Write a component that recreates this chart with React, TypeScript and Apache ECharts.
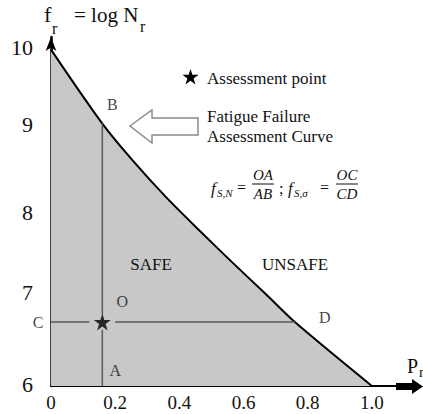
import React, { useEffect, useRef } from "react";
import * as echarts from "echarts";

// ---- data ----
const xTicks = [0, 0.2, 0.4, 0.6, 0.8, 1.0];
const yTicks = [6, 7, 8, 9, 10];
const curveP = [0, 0.16, 0.255, 0.36, 0.465, 0.565, 0.67, 0.76, 1.0];
const curveF = [10, 9.12, 8.68, 8.24, 7.84, 7.47, 7.09, 6.76, 6.0];
const assessP = 0.16;
const assessF = 6.76;
const pointLabels = ["A", "B", "C", "D", "O"];
const pointP = [assessP, assessP, 0, 0.76, assessP];
const pointF = [6, 9.12, assessF, assessF, assessF];

const SERIF = "'Liberation Serif', 'Times New Roman', serif";
const STAR_D =
  "M50,0 L61.2,34.5 L97.6,34.5 L68.2,55.9 L79.4,90.5 L50,69.1 L20.6,90.5 L31.8,55.9 L2.4,34.5 L38.8,34.5 Z";

let registered = false;
function registerShapes() {
  if (registered) return;
  registered = true;
  echarts.graphic.registerShape("starShape", echarts.graphic.extendPath(STAR_D, {}));
}

const X_MIN = 0, X_MAX = 1.15, Y_MIN = 6, Y_MAX = 10.15;
const GAP_X = 0.04, GAP_Y = 0.09;
// small upward nudges (px) of the y tick labels, as printed in the figure
const yLabelLift: Record<number, number> = { 6: 2, 7: 9, 8: 5, 9: 9, 10: 2 };

function buildOption(): any {
  const curve = curveP.map((p, i) => [p, curveF[i]]);
  const idxB = pointLabels.indexOf("B");
  const idxD = pointLabels.indexOf("D");
  const segStyle = { color: "#5a5a5a", width: 1.5 };
  const seg = (a: number[], b: number[]) => ({
    type: "line",
    data: [a, b],
    symbol: "none",
    lineStyle: segStyle,
    z: 3,
    silent: true,
  });
  const labelOffsets: Record<string, number[]> = {
    A: [13, -16],
    B: [10, -19],
    C: [-13, 0],
    D: [30, -5],
    O: [20, -21],
  };
  const txt = (text: string, x: number, y: number, size: number, extra: any = {}) => ({
    type: "text",
    x,
    y,
    z: 100,
    silent: true,
    style: {
      text,
      fill: "#111",
      fontSize: size,
      fontFamily: SERIF,
      align: "left",
      verticalAlign: "middle",
      ...extra,
    },
  });
  const it = { fontStyle: "italic" };
  const yRich: Record<string, any> = {};
  yTicks.forEach((t) => {
    yRich["y" + t] = {
      fontFamily: SERIF,
      fontSize: 22,
      color: "#111",
      padding: [0, 0, 2 * (yLabelLift[t] || 0), 0],
    };
  });
  return {
    animation: false,
    backgroundColor: "#fff",
    grid: { left: 51, right: 3, top: 37, bottom: 28 },
    xAxis: {
      type: "value",
      min: X_MIN,
      max: X_MAX,
      interval: 0.2,
      splitLine: { show: false },
      axisTick: { show: false },
      axisLine: { lineStyle: { color: "#000", width: 2 } },
      axisLabel: {
        color: "#111",
        fontFamily: SERIF,
        fontSize: 19,
        margin: 7,
        showMaxLabel: false,
        formatter: (v: number) => {
          const t = xTicks.find((k) => Math.abs(k - v) < 1e-6);
          if (t === undefined) return "";
          return t === 0 ? "0" : t.toFixed(1);
        },
      },
    },
    yAxis: {
      type: "value",
      min: Y_MIN,
      max: Y_MAX,
      interval: 1,
      splitLine: { show: false },
      axisTick: { show: false },
      axisLine: {
        lineStyle: { color: "#000", width: 2.5 },
        symbol: ["none", "arrow"],
        symbolSize: [8, 14],
        symbolOffset: [0, 0],
      },
      axisLabel: {
        color: "#111",
        fontFamily: SERIF,
        fontSize: 22,
        margin: 18,
        showMaxLabel: false,
        rich: yRich,
        formatter: (v: number) => {
          const t = yTicks.find((k) => Math.abs(k - v) < 1e-6);
          return t === undefined ? "" : `{y${t}|${t}}`;
        },
      },
    },
    series: [
      {
        type: "line",
        data: curve,
        symbol: "none",
        smooth: 0.3,
        lineStyle: { color: "#000", width: 2 },
        areaStyle: { color: "#c8c8c8", opacity: 1, origin: "start" },
        z: 2,
        silent: true,
      },
      // vertical A-B line, broken around the assessment point
      seg([assessP, Y_MIN], [assessP, assessF - GAP_Y]),
      seg([assessP, assessF + GAP_Y], [assessP, pointF[idxB]]),
      // horizontal C-D line, broken around the assessment point
      seg([0, assessF], [assessP - GAP_X, assessF]),
      seg([assessP + GAP_X, assessF], [pointP[idxD], assessF]),
      {
        type: "scatter",
        data: [[assessP, assessF]],
        symbol: "path://" + STAR_D,
        symbolSize: 17,
        itemStyle: { color: "#000" },
        z: 5,
        silent: true,
      },
      {
        type: "scatter",
        data: pointLabels.map((n, i) => ({
          name: n,
          value: [pointP[i], pointF[i]],
          label: { offset: labelOffsets[n] },
        })),
        symbolSize: 0,
        silent: true,
        z: 6,
        label: {
          show: true,
          position: "inside",
          formatter: (p: any) => p.name,
          color: "#111",
          fontFamily: SERIF,
          fontSize: 16,
        },
      },
    ],
    graphic: [
      // title
      txt("f", 44, 14, 22),
      txt("r", 52, 28, 16),
      txt("= log N", 74, 15, 21),
      txt("r", 140, 26, 16),
      // legend
      { type: "starShape", x: 182, y: 69, z: 100, scaleX: 0.17, scaleY: 0.17, style: { fill: "#000" }, silent: true },
      txt("Assessment point", 207, 78, 17),
      // hollow arrow
      {
        type: "polygon",
        silent: true,
        z: 100,
        shape: {
          points: [
            [130, 126],
            [152, 110],
            [152, 118],
            [198, 118],
            [198, 135],
            [152, 135],
            [152, 143],
          ],
        },
        style: { fill: "#fff", stroke: "#8a8a8a", lineWidth: 1.5 },
      },
      txt("Fatigue Failure", 207, 116, 17),
      txt("Assessment Curve", 207, 136, 17),
      // formula
      txt("f", 211, 188, 17, it),
      txt("S,N", 217, 193, 11, it),
      txt("=", 237, 187, 16),
      txt("OA", 263, 175, 15, { ...it, align: "center" }),
      { type: "line", silent: true, z: 100, shape: { x1: 252, y1: 184, x2: 274, y2: 184 }, style: { stroke: "#111", lineWidth: 1 } },
      txt("AB", 263, 194, 15, { ...it, align: "center" }),
      txt(";", 279, 188, 16),
      txt("f", 288, 188, 17, it),
      txt("S,σ", 294, 193, 11, it),
      txt("=", 320, 187, 16),
      txt("OC", 347, 175, 15, { ...it, align: "center" }),
      { type: "line", silent: true, z: 100, shape: { x1: 336, y1: 184, x2: 358, y2: 184 }, style: { stroke: "#111", lineWidth: 1 } },
      txt("CD", 347, 194, 15, { ...it, align: "center" }),
      // region labels
      txt("SAFE", 151, 264, 17, { align: "center" }),
      txt("UNSAFE", 295, 264, 17, { align: "center" }),
      // thick x-axis arrow
      {
        type: "polygon",
        silent: true,
        z: 100,
        shape: {
          points: [
            [396, 383],
            [412, 383],
            [412, 379],
            [423, 386.5],
            [412, 394],
            [412, 390],
            [396, 390],
          ],
        },
        style: { fill: "#000" },
      },
      txt("P", 407, 366, 20),
      txt("r", 419, 372, 15),
    ],
  };
}

export default function App() {
  const ref = useRef<HTMLDivElement>(null);
  useEffect(() => {
    registerShapes();
    const chart = echarts.init(ref.current!, null, { renderer: "svg" });
    chart.setOption(buildOption());
    return () => chart.dispose();
  }, []);
  return (
    <div
      ref={ref}
      style={{ position: "fixed", left: 0, top: 0, width: 423, height: 414, background: "#fff" }}
    />
  );
}
